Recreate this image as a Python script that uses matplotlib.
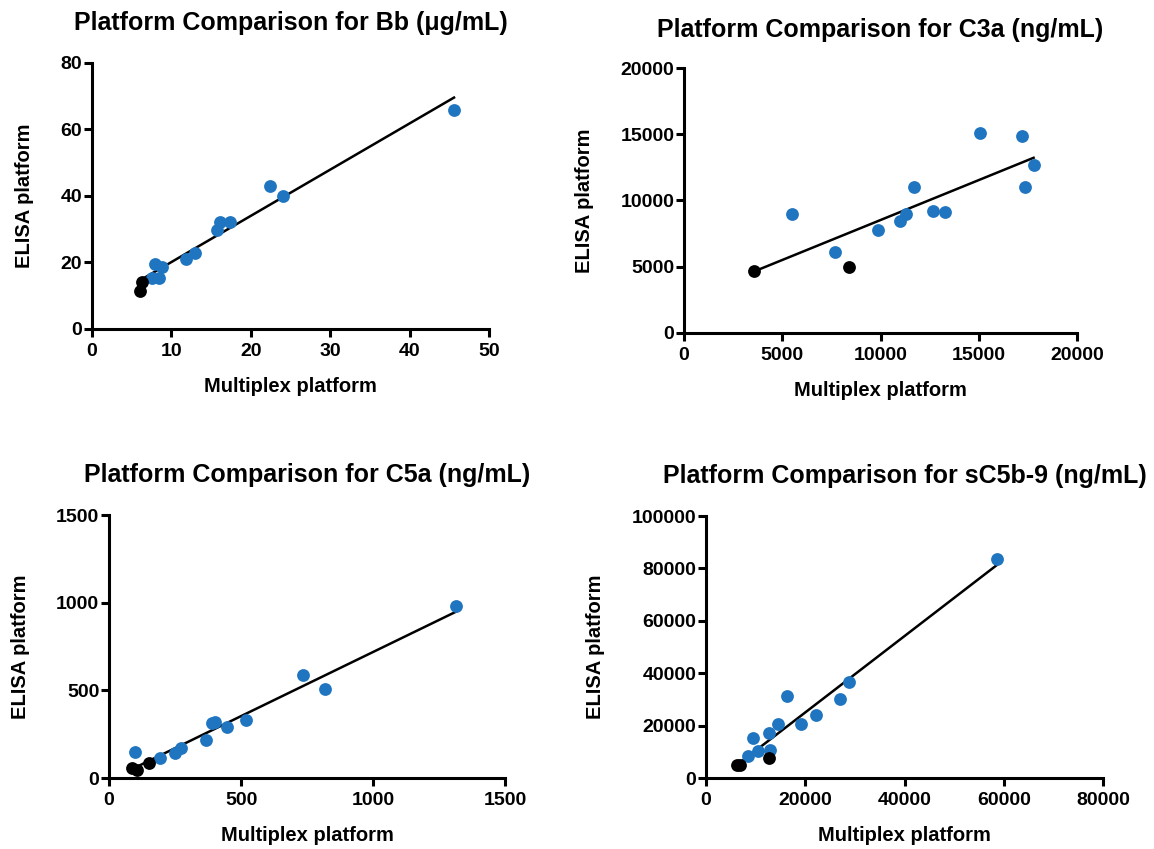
import numpy as np
import matplotlib
matplotlib.use('Agg')
import matplotlib.pyplot as plt

plt.rcParams['font.family'] = ['Liberation Sans', 'DejaVu Sans']
plt.rcParams['font.weight'] = 'bold'

BLUE = '#1f75c0'

# Bb (ug/mL)
bb_x = [45.6, 22.4, 24.1, 16.1, 17.4, 15.7, 13.0, 11.9, 7.9, 8.8, 7.5, 8.5]
bb_y = [65.9, 43.1, 40.1, 32.1, 32.1, 29.8, 22.8, 21.0, 19.5, 18.5, 15.2, 15.2]
bb_kx = [6.3, 6.1]
bb_ky = [14.0, 11.5]

# C3a (ng/mL)
c3a_x = [5510, 7710, 9880, 10980, 11320, 11690, 12680, 13300, 15080, 17200, 17340, 17790]
c3a_y = [8980, 6080, 7770, 8420, 8980, 10990, 9180, 9130, 15090, 14840, 11020, 12700]
c3a_kx = [3575, 8390]
c3a_ky = [4700, 5000]

# C5a (ng/mL)
c5a_x = [1314, 733, 819, 519, 446, 389, 401, 367, 271, 249, 192, 100]
c5a_y = [979, 587, 506, 331, 293, 312, 318, 214, 170, 142, 114, 151]
c5a_kx = [151, 88, 107]
c5a_ky = [85, 57, 47]

# sC5b-9 (ng/mL)
sc_x = [58550, 28800, 26990, 16380, 22090, 19070, 14560, 12690, 9530, 12890, 10540, 8390]
sc_y = [83540, 36800, 30200, 31350, 24110, 20570, 20690, 17140, 15240, 10780, 10130, 8230]
sc_kx = [12690, 6180, 6850]
sc_ky = [7620, 4800, 5070]

panels = [
    ('Platform Comparison for Bb (\u03bcg/mL)', bb_x, bb_y, bb_kx, bb_ky,
     [0, 10, 20, 30, 40, 50], [0, 20, 40, 60, 80],
     [0.0797, 0.6125, 0.344, 0.3133], 24),
    ('Platform Comparison for C3a (ng/mL)', c3a_x, c3a_y, c3a_kx, c3a_ky,
     [0, 5000, 10000, 15000, 20000], [0, 5000, 10000, 15000, 20000],
     [0.5927, 0.6078, 0.3406, 0.3121], 22),
    ('Platform Comparison for C5a (ng/mL)', c5a_x, c5a_y, c5a_kx, c5a_ky,
     [0, 500, 1000, 1500], [0, 500, 1000, 1500],
     [0.0945, 0.0836, 0.3432, 0.3098], 24),
    ('Platform Comparison for sC5b-9 (ng/mL)', sc_x, sc_y, sc_kx, sc_ky,
     [0, 20000, 40000, 60000, 80000], [0, 20000, 40000, 60000, 80000, 100000],
     [0.6118, 0.0836, 0.344, 0.3086], 24),
]

fig = plt.figure(figsize=(11.54, 8.49), dpi=100)

for title, x, y, kx, ky, xt, yt, pos, pad in panels:
    ax = fig.add_axes(pos)
    allx = np.array(x + kx, dtype=float)
    ally = np.array(y + ky, dtype=float)
    # linear fit over all points, drawn across the data range
    m, b = np.polyfit(allx, ally, 1)
    xs = np.array([allx.min(), allx.max()])
    ax.plot(xs, m * xs + b, color='black', lw=1.8, zorder=2)
    ax.scatter(x, y, s=85, color=BLUE, zorder=3, clip_on=False, linewidths=0)
    ax.scatter(kx, ky, s=85, color='black', zorder=3, clip_on=False, linewidths=0)
    ax.set_xlim(xt[0], xt[-1])
    ax.set_ylim(yt[0], yt[-1])
    ax.set_xticks(xt)
    ax.set_yticks(yt)
    ax.spines['top'].set_visible(False)
    ax.spines['right'].set_visible(False)
    for s in ('left', 'bottom'):
        ax.spines[s].set_linewidth(2.2)
    ax.tick_params(width=2.2, length=6, labelsize=14)
    ax.tick_params(axis='x', pad=4)
    ax.tick_params(axis='y', pad=1)
    for lab in ax.get_xticklabels() + ax.get_yticklabels():
        lab.set_fontweight('bold')
    ax.set_xlabel('Multiplex platform', fontsize=14.5, fontweight='bold', labelpad=12)
    ax.set_ylabel('ELISA platform', fontsize=14.5, fontweight='bold', labelpad=19)
    ax.set_title(title, fontsize=18, fontweight='bold', pad=pad)

fig.savefig('out.png', dpi=100)
